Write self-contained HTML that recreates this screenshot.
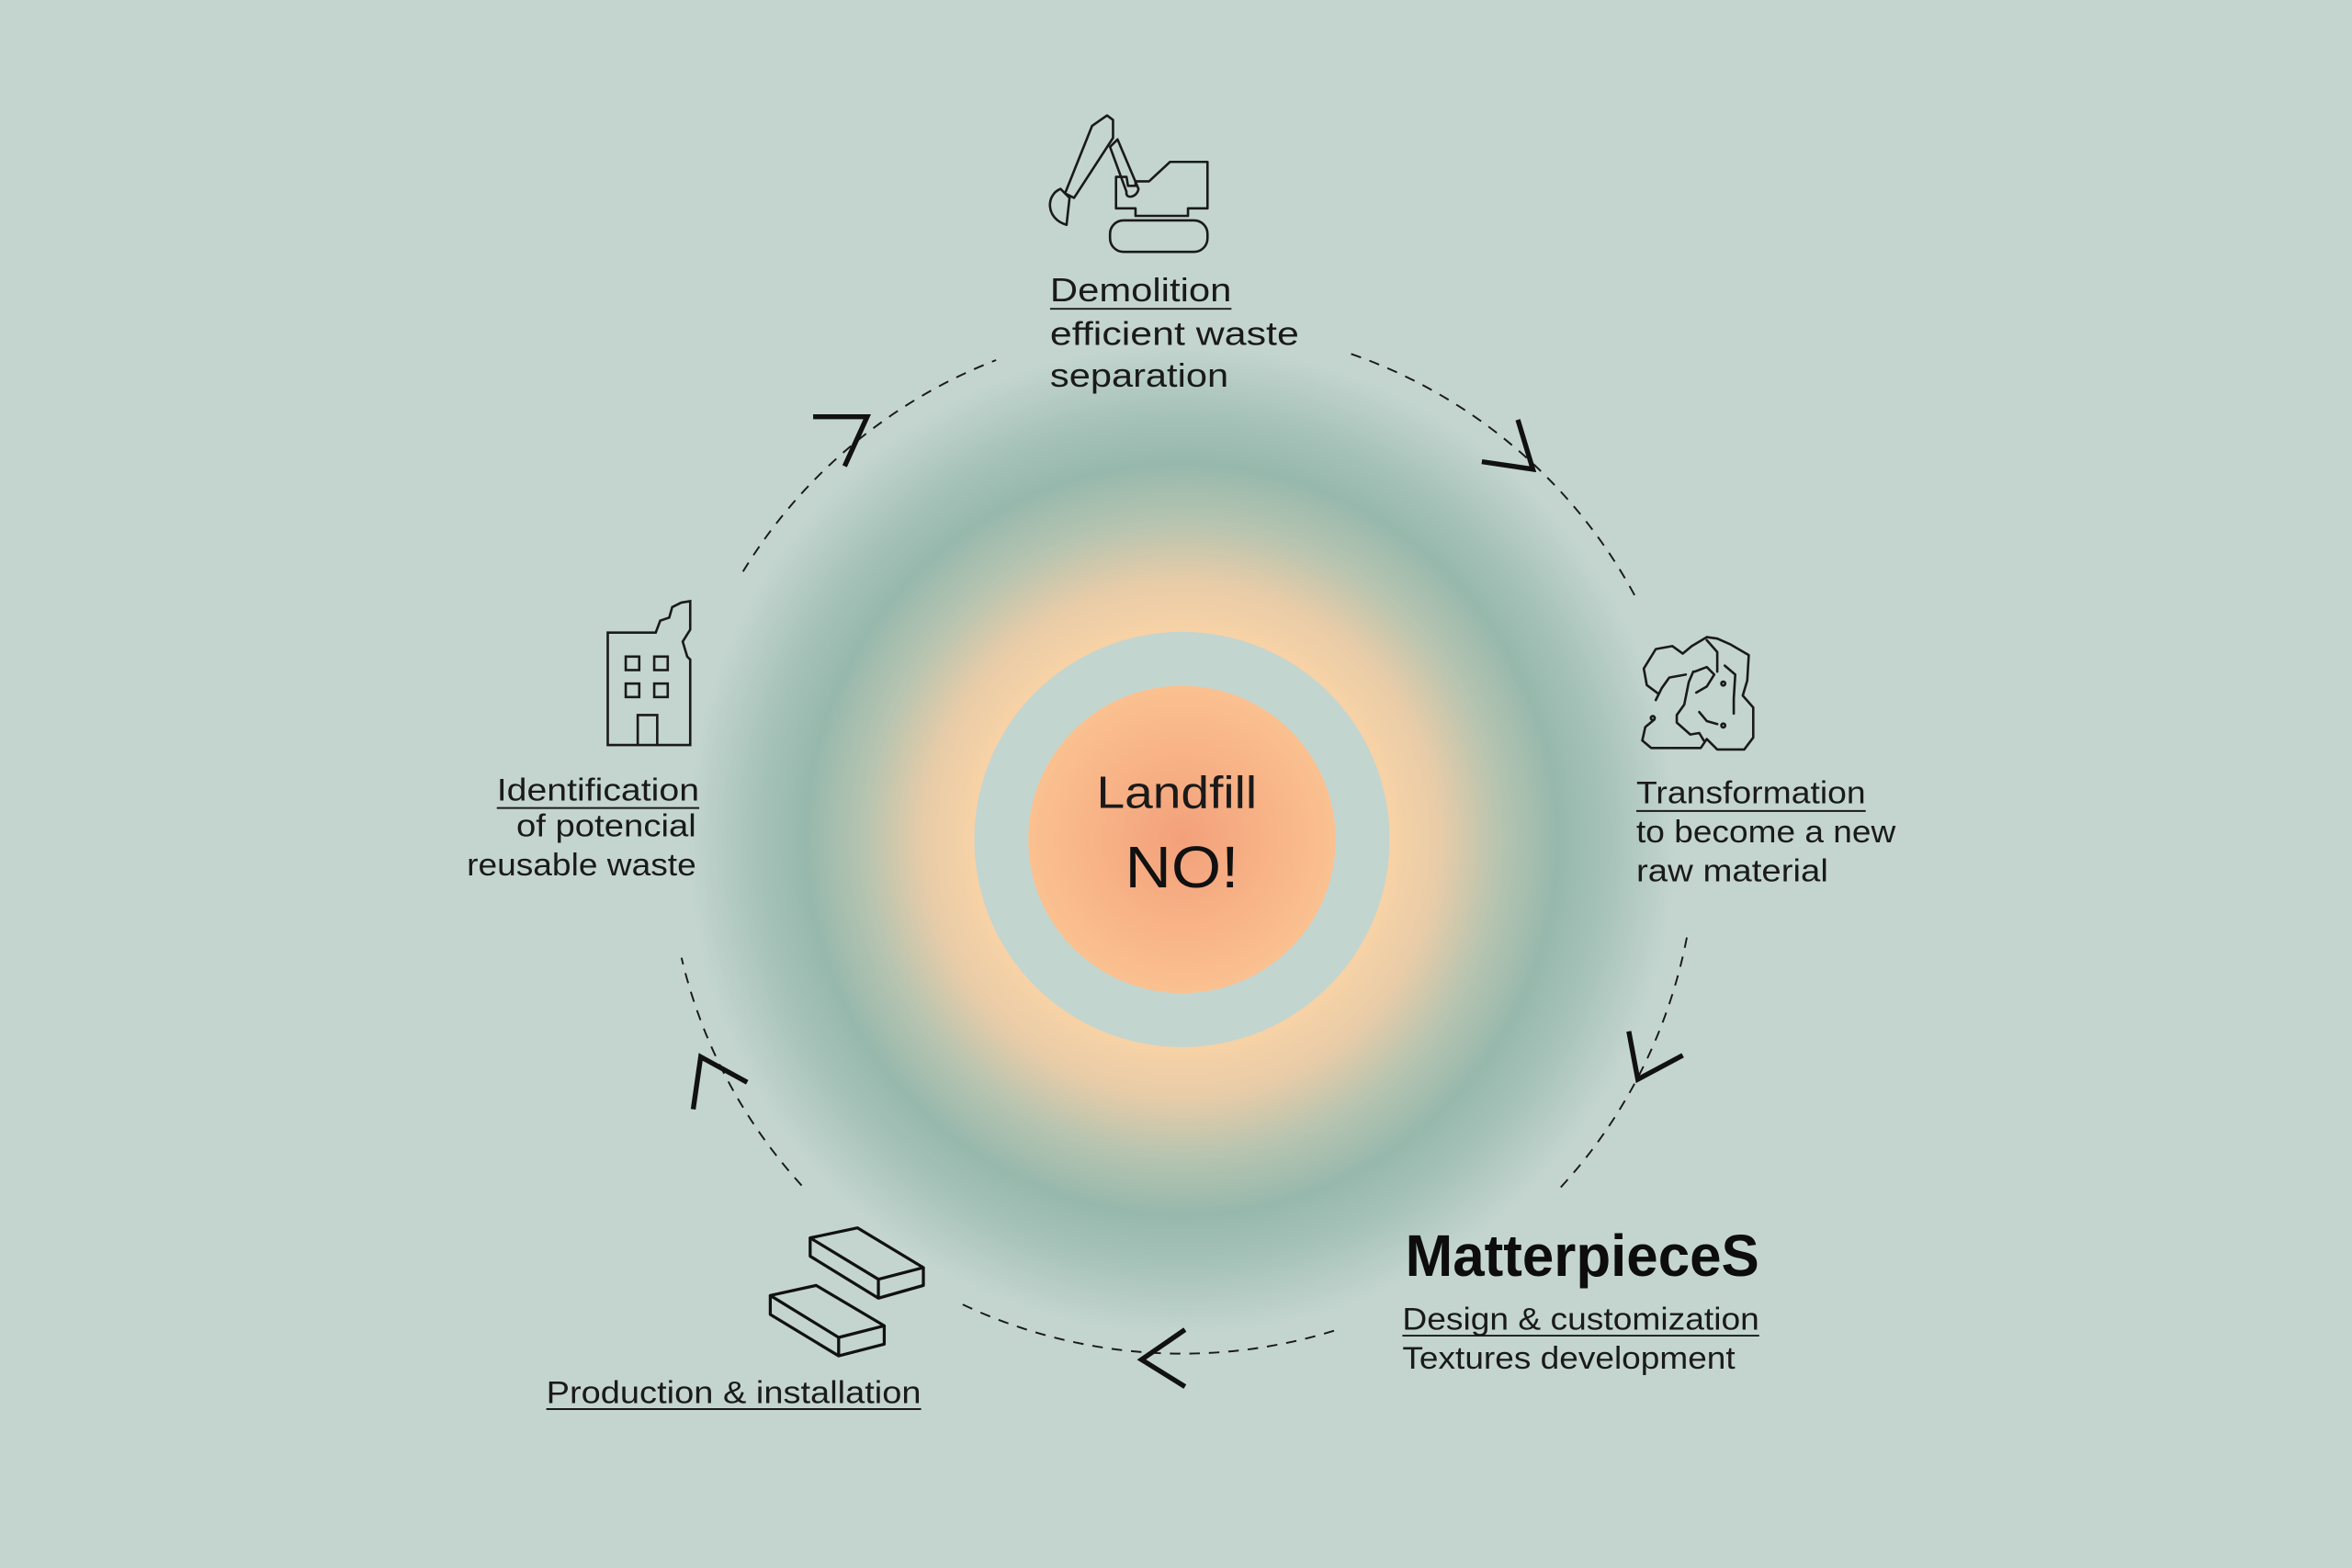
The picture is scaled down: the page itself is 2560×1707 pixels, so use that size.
<!DOCTYPE html>
<html><head><meta charset="utf-8"><style>
html,body{margin:0;padding:0;background:#c4d5cf;}
svg{display:block;}
text{font-family:"Liberation Sans","DejaVu Sans",sans-serif;fill:#1a1a1a;}
</style></head><body>
<svg width="2560" height="1707" viewBox="0 0 1568 1046" xmlns="http://www.w3.org/2000/svg">
<defs>
<radialGradient id="halo" cx="788" cy="560" r="330" gradientUnits="userSpaceOnUse">
<stop offset="0" stop-color="#f7d2a6"/>
<stop offset="0.42" stop-color="#f7d2a6"/>
<stop offset="0.52" stop-color="#e8cca8"/>
<stop offset="0.64" stop-color="#b7c4b0"/>
<stop offset="0.76" stop-color="#97b8ad"/>
<stop offset="0.86" stop-color="#a6c2b9"/>
<stop offset="1" stop-color="#c4d5cf" stop-opacity="1"/>
</radialGradient>
<radialGradient id="core" cx="788" cy="560" r="103" gradientUnits="userSpaceOnUse">
<stop offset="0" stop-color="#f3a07a"/>
<stop offset="1" stop-color="#fbc190"/>
</radialGradient>
</defs>
<rect width="1568" height="1046" fill="#c4d5cf"/>
<circle cx="788" cy="560" r="330" fill="url(#halo)"/>
<circle cx="788" cy="560" r="138.5" fill="#c3d5cf"/>
<circle cx="788" cy="560" r="102.5" fill="url(#core)"/>

<!-- dashed arcs -->
<g fill="none" stroke="#1a1a1a" stroke-width="1.2" stroke-dasharray="7,6">
<path d="M495.2,381.3 A343,343 0 0 1 664,240.2"/>
<path d="M900.8,236.1 A343,343 0 0 1 1090.3,397.9"/>
<path d="M1124.7,625.4 A343,343 0 0 1 1038.9,793.9"/>
<path d="M889.4,887.7 A343,343 0 0 1 639.8,869.3"/>
<path d="M534.3,790.8 A343,343 0 0 1 454.2,638.9"/>
</g>
<!-- arrowheads -->
<g fill="none" stroke="#111" stroke-width="3.3" stroke-linejoin="miter">
<polyline points="542,278 578,278 563,311"/>
<polyline points="1012,280 1022,313 988,308"/>
<polyline points="1086,688 1092,720 1122,704"/>
<polyline points="790,887 761,907 790,925"/>
<polyline points="462,740 467,705 498,722"/>
</g>

<!-- excavator -->
<g fill="none" stroke="#1a1a1a" stroke-width="1.6" stroke-linejoin="round">
<path d="M710,129 L728,84 L738,77 L742,80 L742,92 L716,132 Z"/>
<path d="M707,126 C697,130 697,146 711,150 L713,132 Z"/>
<path d="M740,98 L745,93 L759,126 C758,132 750,133 751,128 Z"/>
<path d="M744,118 L751,118 L752,124 L757,124 L757,121 L766,121 L780,108 L805,108 L805,139 L792,139 L792,144 L757,144 L757,139 L744,139 Z"/>
<rect x="740" y="147" width="65" height="21" rx="9"/>
</g>

<!-- building -->
<g fill="none" stroke="#1a1a1a" stroke-width="1.6">
<path d="M405,497 L405,422 L437,422 L440,414 L446,412 L448,405 L454,402 L460,401 L460,420 L455,428 L458,438 L460,440 L460,497 Z"/>
<rect x="417" y="438" width="9" height="9"/><rect x="436" y="438" width="9" height="9"/>
<rect x="417" y="456" width="9" height="9"/><rect x="436" y="456" width="9" height="9"/>
<path d="M425,497 L425,477 L438,477 L438,497"/>
</g>

<!-- transformation blob -->
<g fill="none" stroke="#1a1a1a" stroke-width="1.6" stroke-linecap="round" stroke-linejoin="round">
<path d="M1103,480 L1097,485 L1095,494 L1101,499 L1134,499 L1138,493 L1145,500 L1163,500 L1169,492 L1169,472 L1162,464 L1165,454 L1166,437 L1154,430 L1145,426 L1138,425 L1128,431 L1122,436 L1115,431 L1104,433 L1096,446 L1098,457 L1106,463"/>
<path d="M1104,467 L1108,459 L1113,452 L1124,450"/>
<path d="M1138,427 L1145,435 L1145,448"/>
<path d="M1150,444 L1157,450 L1156,466 L1156,476"/>
<path d="M1129,448 L1126,455 L1123,470 L1118,477 L1118,482 L1127,490 L1133,489 L1136,494"/>
<path d="M1130,448 L1138,445 L1143,450 L1138,458 L1131,462"/>
<path d="M1133,475 L1138,481 L1145,483"/>
<circle cx="1102" cy="479" r="1.3"/><circle cx="1149" cy="456" r="1.3"/><circle cx="1149" cy="484" r="1.3"/>
</g>

<!-- slabs -->
<g fill="none" stroke="#111" stroke-width="2" stroke-linejoin="round">
<path d="M540,825.8 L571.6,819.1 L615.5,845.6 L585.5,853.4 Z"/>
<path d="M540,825.8 L540,838 L585.5,866 L615.5,857.5 L615.5,845.6 M585.5,853.4 L585.5,866"/>
<path d="M513.4,864.2 L544,857.5 L589.4,884.4 L559,892.2 Z"/>
<path d="M513.4,864.2 L513.4,876.9 L559,904.5 L589.4,896.7 L589.4,884.4 M559,892.2 L559,904.5"/>
</g>

<!-- labels -->
<g font-size="22">
<text x="700" y="201" textLength="121" lengthAdjust="spacingAndGlyphs">Demolition</text>
<line x1="700" y1="206" x2="821" y2="206" stroke="#1a1a1a" stroke-width="1.2"/>
<text x="700" y="230" textLength="166" lengthAdjust="spacingAndGlyphs">efficient waste</text>
<text x="700" y="258" textLength="119" lengthAdjust="spacingAndGlyphs">separation</text>
</g>
<g font-size="21">
<text x="331" y="534" textLength="135" lengthAdjust="spacingAndGlyphs">Identification</text>
<line x1="331" y1="539" x2="466" y2="539" stroke="#1a1a1a" stroke-width="1.2"/>
<text x="344" y="558" textLength="120" lengthAdjust="spacingAndGlyphs">of potencial</text>
<text x="311" y="584" textLength="153" lengthAdjust="spacingAndGlyphs">reusable waste</text>

<text x="1091" y="536" textLength="153" lengthAdjust="spacingAndGlyphs">Transformation</text>
<line x1="1091" y1="541" x2="1244" y2="541" stroke="#1a1a1a" stroke-width="1.2"/>
<text x="1091" y="562" textLength="173" lengthAdjust="spacingAndGlyphs">to become a new</text>
<text x="1091" y="588" textLength="128" lengthAdjust="spacingAndGlyphs">raw material</text>

<text x="935" y="887" textLength="238" lengthAdjust="spacingAndGlyphs">Design &amp; customization</text>
<line x1="935" y1="891" x2="1173" y2="891" stroke="#1a1a1a" stroke-width="1.2"/>
<text x="935" y="913" textLength="222" lengthAdjust="spacingAndGlyphs">Textures development</text>

<text x="364" y="936" textLength="250" lengthAdjust="spacingAndGlyphs">Production &amp; installation</text>
<line x1="364" y1="940" x2="614" y2="940" stroke="#1a1a1a" stroke-width="1.2"/>
</g>
<text x="937" y="851" font-size="39" font-weight="bold" textLength="236" lengthAdjust="spacingAndGlyphs" style="fill:#0d0d0d">MatterpieceS</text>

<text x="731" y="539" font-size="30" textLength="107" lengthAdjust="spacingAndGlyphs">Landfill</text>
<text x="750" y="592" font-size="39" textLength="76" lengthAdjust="spacingAndGlyphs" style="fill:#111">NO!</text>
</svg>
</body></html>
